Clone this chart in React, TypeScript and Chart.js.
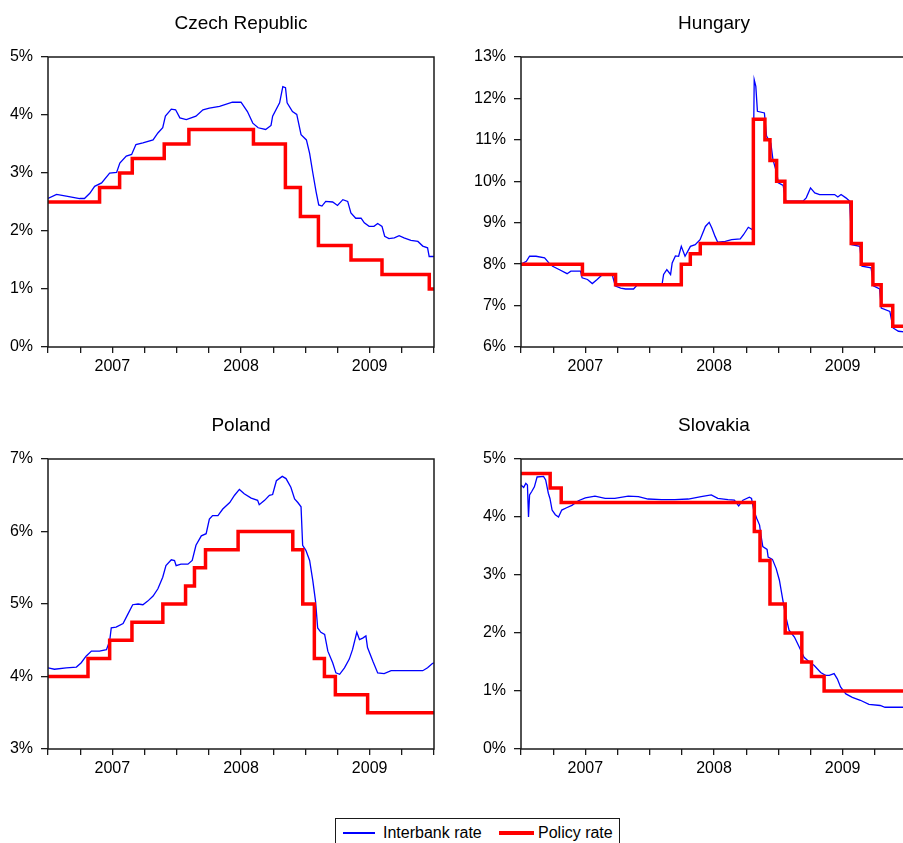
import React, { useEffect, useRef } from 'react';
import { Chart, registerables } from 'chart.js';

Chart.register(...registerables);

type Pt = [number, number];

const FONT = "'Liberation Sans', Arial, Helvetica, sans-serif";

// x values are months since January 2007 (0 = Jan 2007, 36 = Jan 2010)
const yearLabels = ['2007', '2008', '2009'];
const yearLabelMonths = [6, 18, 30];
const legendLabels = ['Interbank rate', 'Policy rate'];
const panelTitles = ['Czech Republic', 'Hungary', 'Poland', 'Slovakia'];

const czechInterbank: Pt[] = [
  [0, 2.56], [0.8, 2.63], [1.7, 2.6], [2.95, 2.56], [3.4, 2.56], [3.9, 2.65], [4.35, 2.77], [5.0, 2.83],
  [5.75, 3.0], [6.4, 3.01], [6.7, 3.17], [7.3, 3.29], [7.8, 3.32], [8.2, 3.49], [8.85, 3.52], [9.8, 3.57],
  [10.25, 3.69], [10.7, 3.78], [10.95, 3.98], [11.5, 4.1], [11.9, 4.09], [12.3, 3.95], [12.9, 3.92],
  [13.8, 3.98], [14.45, 4.09], [15.05, 4.12], [16.0, 4.15], [17.2, 4.22], [18.0, 4.22], [18.6, 4.06],
  [19.1, 3.86], [19.6, 3.78], [20.3, 3.75], [20.8, 3.82], [20.95, 3.98], [21.6, 4.21], [21.9, 4.49],
  [22.15, 4.47], [22.3, 4.21], [22.8, 4.06], [23.2, 4.01], [23.6, 3.66], [24.1, 3.57], [24.4, 3.34],
  [24.7, 3.0], [25.0, 2.68], [25.25, 2.45], [25.55, 2.43], [25.9, 2.51], [26.55, 2.5], [27.0, 2.44],
  [27.5, 2.54], [27.95, 2.51], [28.25, 2.31], [28.7, 2.22], [29.2, 2.22], [29.5, 2.14], [29.95, 2.08],
  [30.4, 2.08], [30.75, 2.13], [31.15, 2.08], [31.4, 1.91], [31.8, 1.87], [32.3, 1.88], [32.75, 1.92],
  [33.2, 1.88], [33.85, 1.84], [34.5, 1.82], [34.95, 1.74], [35.4, 1.71], [35.55, 1.56], [36, 1.56],
];
const czechPolicy: Pt[] = [
  [0, 2.5], [4.81, 2.75], [6.68, 3.0], [7.86, 3.25], [10.84, 3.5], [13.14, 3.75], [19.16, 3.5],
  [22.14, 2.75], [23.54, 2.25], [25.22, 1.75], [28.26, 1.5], [31.15, 1.25], [35.56, 1.0], [36, 1.0],
];

const hungaryInterbank: Pt[] = [
  [0, 8.0], [0.5, 8.07], [0.8, 8.19], [1.4, 8.19], [2.2, 8.15], [2.6, 8.03], [2.95, 7.95], [3.55, 7.87],
  [4.3, 7.77], [4.65, 7.83], [5.55, 7.83], [5.7, 7.67], [6.2, 7.63], [6.65, 7.53], [7.1, 7.63], [7.6, 7.75],
  [8.5, 7.75], [8.8, 7.47], [9.3, 7.42], [9.75, 7.4], [10.5, 7.4], [10.85, 7.5], [13.15, 7.5], [13.3, 7.75],
  [13.6, 7.87], [13.95, 7.75], [14.1, 8.03], [14.4, 8.2], [14.7, 8.19], [14.95, 8.43], [15.3, 8.19],
  [15.8, 8.43], [16.25, 8.47], [16.7, 8.59], [17.2, 8.91], [17.55, 9.01], [17.8, 8.87], [18.1, 8.67],
  [18.35, 8.53], [19.05, 8.55], [19.65, 8.59], [20.45, 8.61], [20.75, 8.71], [21.2, 8.89], [21.6, 8.83],
  [21.75, 12.45], [21.9, 12.29], [22.05, 11.69], [22.7, 11.65], [22.9, 11.09], [23.3, 10.92], [23.5, 10.52],
  [23.85, 10.2], [24.0, 9.96], [24.45, 9.9], [24.7, 9.52], [26.3, 9.52], [26.6, 9.6], [27.0, 9.84],
  [27.4, 9.72], [27.85, 9.68], [29.25, 9.68], [29.55, 9.62], [29.85, 9.68], [30.3, 9.6], [30.65, 9.52],
  [30.85, 8.47], [31.6, 8.43], [31.8, 7.95], [32.65, 7.91], [32.9, 7.47], [33.45, 7.4], [33.6, 6.94],
  [34.4, 6.86], [34.7, 6.46], [35.2, 6.38], [36, 6.36],
];
const hungaryPolicy: Pt[] = [
  [0, 8.0], [5.73, 7.75], [8.82, 7.5], [14.95, 8.0], [15.79, 8.25], [16.72, 8.5], [21.67, 11.5],
  [22.75, 11.0], [23.22, 10.5], [23.84, 10.0], [24.61, 9.5], [30.8, 8.5], [31.73, 8.0], [32.82, 7.5],
  [33.59, 7.0], [34.67, 6.5], [36, 6.5],
];

const polandInterbank: Pt[] = [
  [0, 4.12], [0.6, 4.1], [1.7, 4.12], [2.65, 4.13], [3.1, 4.19], [3.55, 4.28], [4.05, 4.35], [4.8, 4.35],
  [5.45, 4.37], [5.75, 4.49], [5.9, 4.67], [6.35, 4.68], [7.0, 4.73], [7.45, 4.86], [7.9, 4.99], [8.4, 5.0],
  [8.85, 4.99], [9.3, 5.04], [9.8, 5.11], [10.25, 5.21], [10.7, 5.37], [11.0, 5.53], [11.5, 5.61],
  [11.8, 5.6], [11.95, 5.53], [12.4, 5.55], [13.05, 5.55], [13.45, 5.6], [13.8, 5.81], [14.3, 5.94],
  [14.75, 5.97], [15.05, 6.17], [15.35, 6.22], [15.85, 6.22], [16.3, 6.31], [16.95, 6.4], [17.4, 6.5],
  [17.85, 6.58], [18.3, 6.52], [18.95, 6.46], [19.55, 6.43], [19.7, 6.37], [20.2, 6.43], [20.65, 6.5],
  [20.95, 6.51], [21.3, 6.7], [21.85, 6.76], [22.2, 6.73], [22.65, 6.61], [23.0, 6.45], [23.3, 6.4],
  [23.6, 6.34], [23.75, 5.81], [24.05, 5.74], [24.4, 5.6], [24.7, 5.32], [24.95, 5.04], [25.15, 4.67],
  [25.45, 4.61], [25.8, 4.58], [26.1, 4.35], [26.55, 4.19], [26.85, 4.05], [27.2, 4.03], [27.65, 4.12],
  [28.1, 4.24], [28.4, 4.37], [28.8, 4.61], [29.05, 4.51], [29.35, 4.53], [29.65, 4.56], [29.8, 4.4],
  [30.3, 4.21], [30.75, 4.05], [31.35, 4.04], [32.0, 4.08], [32.75, 4.08], [34.95, 4.08], [35.4, 4.12],
  [35.85, 4.18], [36, 4.19],
];
const polandPolicy: Pt[] = [
  [0, 4.0], [3.73, 4.25], [5.75, 4.5], [7.83, 4.75], [10.71, 5.0], [12.83, 5.25], [13.66, 5.5],
  [14.69, 5.75], [17.73, 6.0], [22.83, 5.75], [23.76, 5.0], [24.84, 4.25], [25.78, 4.0], [26.8, 3.75],
  [29.81, 3.5], [36, 3.5],
];

const slovakiaInterbank: Pt[] = [
  [0, 4.55], [0.25, 4.51], [0.45, 4.58], [0.6, 4.55], [0.7, 4.0], [0.8, 4.38], [1.0, 4.44], [1.25, 4.52],
  [1.5, 4.69], [2.1, 4.7], [2.3, 4.64], [2.55, 4.41], [2.7, 4.32], [2.9, 4.12], [3.2, 4.04], [3.5, 4.0],
  [3.8, 4.12], [4.25, 4.16], [4.75, 4.2], [5.35, 4.28], [6.0, 4.33], [6.9, 4.36], [7.85, 4.32],
  [8.75, 4.32], [10.0, 4.36], [10.95, 4.35], [11.85, 4.31], [13.1, 4.3], [14.35, 4.3], [15.6, 4.31],
  [16.8, 4.35], [17.75, 4.38], [18.35, 4.32], [19.3, 4.3], [19.9, 4.29], [20.3, 4.19], [20.7, 4.29],
  [21.3, 4.34], [21.5, 4.32], [21.7, 4.12], [22.0, 3.97], [22.25, 3.86], [22.4, 3.66], [22.55, 3.49],
  [22.95, 3.44], [23.05, 3.31], [23.45, 3.27], [23.8, 3.11], [24.1, 2.91], [24.4, 2.59], [24.7, 2.28],
  [25.0, 2.05], [25.5, 1.93], [25.95, 1.76], [26.4, 1.58], [26.9, 1.5], [27.35, 1.44], [27.95, 1.32],
  [28.4, 1.27], [28.75, 1.27], [29.2, 1.3], [29.5, 1.21], [29.8, 1.07], [30.3, 0.95], [30.9, 0.89],
  [31.65, 0.84], [32.45, 0.77], [33.5, 0.75], [33.95, 0.72], [35.4, 0.72], [36, 0.72],
];
const slovakiaPolicy: Pt[] = [
  [0, 4.75], [2.72, 4.5], [3.75, 4.25], [21.76, 3.75], [22.29, 3.25], [23.22, 2.5], [24.64, 2.0],
  [26.19, 1.5], [27.09, 1.25], [28.27, 1.0], [36, 1.0],
];

const framePlugin = {
  id: 'frame',
  afterDraw(chart: any) {
    const { ctx, chartArea } = chart;
    const { left, top, right, bottom } = chartArea;
    ctx.save();
    ctx.strokeStyle = '#1a1a1a';
    ctx.lineWidth = 1.5;
    ctx.strokeRect(left, top, right - left, bottom - top);
    ctx.restore();
  },
};

interface PanelProps {
  title: string;
  interbank: Pt[];
  policy: Pt[];
  yMin: number;
  yMax: number;
  left: number;
  top: number;
  width: number;
  plotLeft: number;
  padRight: number;
}

const CANVAS_H = 395;

function Panel(props: PanelProps) {
  const ref = useRef<HTMLCanvasElement>(null);
  const { title, interbank, policy, yMin, yMax, left, top, width, plotLeft, padRight } = props;
  useEffect(() => {
    if (!ref.current) return;
    const chart = new Chart(ref.current, {
      type: 'line',
      data: {
        datasets: [
          {
            label: legendLabels[0],
            data: interbank.map(([x, y]) => ({ x, y })),
            borderColor: '#0000FF',
            backgroundColor: '#0000FF',
            borderWidth: 1.3,
            pointRadius: 0,
            tension: 0,
            order: 2,
          },
          {
            label: legendLabels[1],
            data: policy.map(([x, y]) => ({ x, y })),
            borderColor: '#FF0000',
            backgroundColor: '#FF0000',
            borderWidth: 3.5,
            pointRadius: 0,
            stepped: 'before',
            borderJoinStyle: 'miter',
            borderCapStyle: 'butt',
            order: 1,
          },
        ],
      } as any,
      options: {
        responsive: false,
        animation: false,
        devicePixelRatio: 1,
        layout: { padding: { top: 0, left: 0, right: padRight, bottom: 8 } },
        plugins: {
          legend: { display: false },
          tooltip: { enabled: false },
          title: {
            display: true,
            text: title,
            fullSize: false,
            color: '#000',
            font: { family: FONT, size: 19, weight: 'normal' },
            padding: { top: 12, bottom: 22.2 },
          },
        },
        scales: {
          x: {
            type: 'linear',
            min: 0,
            max: 36,
            afterFit: (s: any) => {
              s.height = 40;
            },
            ticks: {
              stepSize: 3,
              autoSkip: false,
              maxRotation: 0,
              padding: 4,
              color: '#000',
              font: { family: FONT, size: 16 },
              callback: (v: any) => {
                const i = yearLabelMonths.indexOf(Number(v));
                return i >= 0 ? yearLabels[i] : '';
              },
            },
            grid: { drawOnChartArea: false, drawTicks: true, tickLength: 6, color: '#1a1a1a', lineWidth: 1.3 },
            border: { display: false },
          },
          y: {
            type: 'linear',
            min: yMin,
            max: yMax,
            afterFit: (s: any) => {
              s.width = plotLeft;
            },
            ticks: {
              stepSize: 1,
              padding: 8,
              color: '#000',
              font: { family: FONT, size: 16 },
              callback: (v: any) => `${v}%`,
            },
            grid: { drawOnChartArea: false, drawTicks: true, tickLength: 7, color: '#1a1a1a', lineWidth: 1.3 },
            border: { display: false },
          },
        },
      } as any,
      plugins: [framePlugin],
    });
    return () => chart.destroy();
  }, []);
  return (
    <canvas
      ref={ref}
      width={width}
      height={CANVAS_H}
      style={{ position: 'absolute', left, top, width, height: CANVAS_H }}
    />
  );
}

function Legend() {
  const text: React.CSSProperties = {
    position: 'absolute',
    top: 4,
    fontFamily: FONT,
    fontSize: 16,
    lineHeight: '20px',
    color: '#000',
    whiteSpace: 'nowrap',
  };
  return (
    <div
      style={{
        position: 'absolute',
        left: 335,
        top: 818,
        width: 285,
        height: 32,
        border: '1.5px solid #1a1a1a',
        boxSizing: 'border-box',
        background: '#fff',
      }}
    >
      <div style={{ position: 'absolute', left: 7, top: 13, width: 32, height: 1.5, background: '#0000FF' }} />
      <div style={{ ...text, left: 47 }}>{legendLabels[0]}</div>
      <div style={{ position: 'absolute', left: 163, top: 12, width: 35, height: 3.5, background: '#FF0000' }} />
      <div style={{ ...text, left: 202 }}>{legendLabels[1]}</div>
    </div>
  );
}

export default function App() {
  return (
    <div
      style={{
        position: 'fixed',
        left: 0,
        top: 0,
        width: 903,
        height: 843,
        overflow: 'hidden',
        background: '#fff',
      }}
    >
      <Panel title={panelTitles[0]} interbank={czechInterbank} policy={czechPolicy} yMin={0} yMax={5}
        left={0} top={0} width={450} plotLeft={48} padRight={16} />
      <Panel title={panelTitles[1]} interbank={hungaryInterbank} policy={hungaryPolicy} yMin={6} yMax={13}
        left={450} top={0} width={475} plotLeft={71} padRight={18} />
      <Panel title={panelTitles[2]} interbank={polandInterbank} policy={polandPolicy} yMin={3} yMax={7}
        left={0} top={402} width={450} plotLeft={48} padRight={16} />
      <Panel title={panelTitles[3]} interbank={slovakiaInterbank} policy={slovakiaPolicy} yMin={0} yMax={5}
        left={450} top={402} width={475} plotLeft={71} padRight={18} />
      <Legend />
    </div>
  );
}
